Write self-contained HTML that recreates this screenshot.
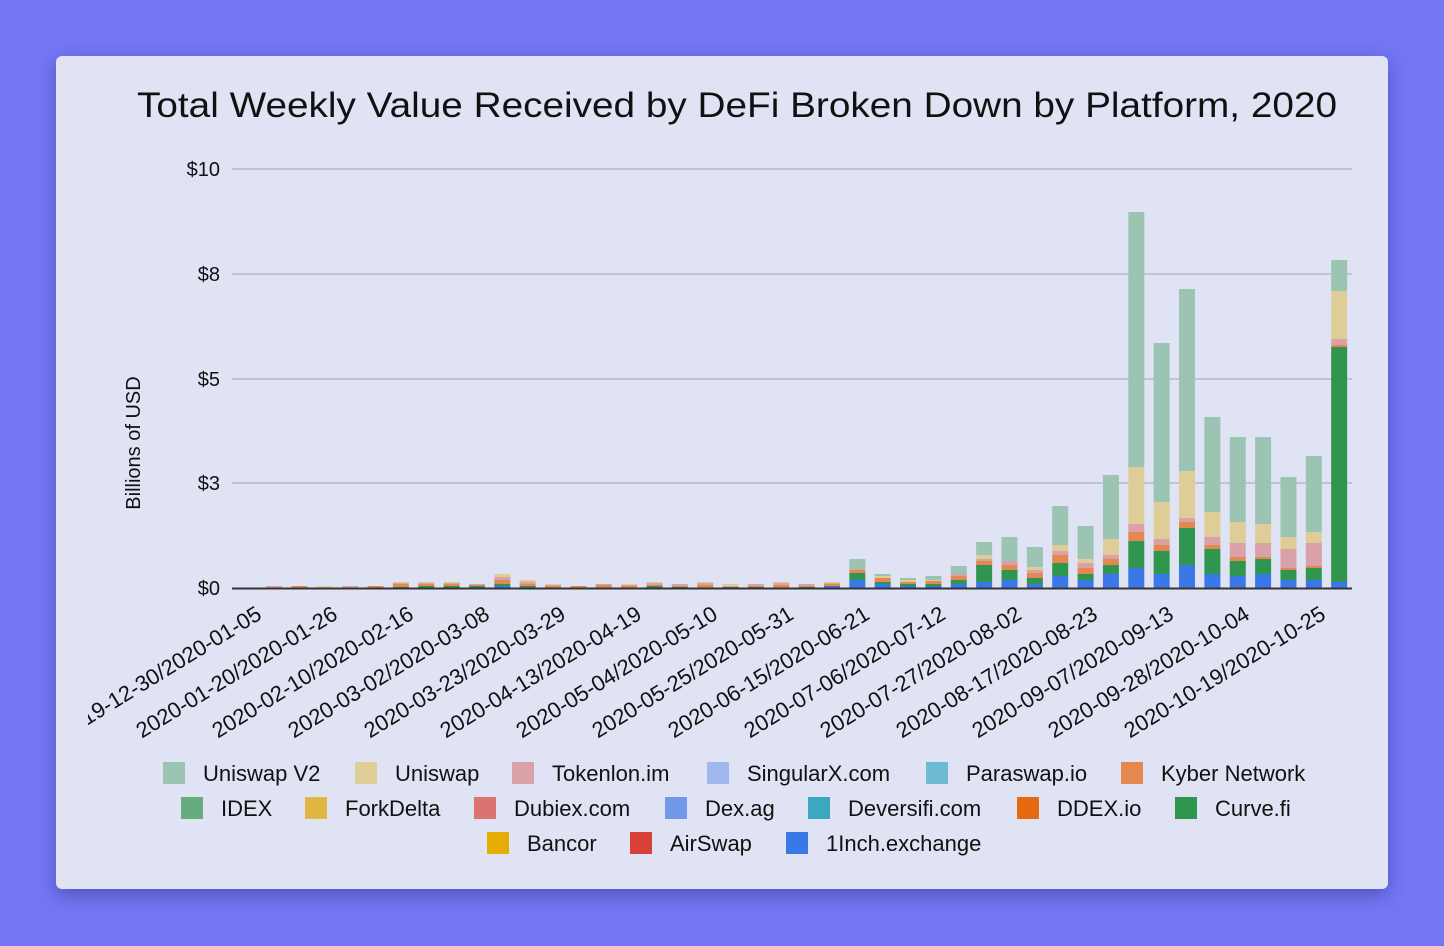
<!DOCTYPE html>
<html><head><meta charset="utf-8"><style>
html,body{margin:0;padding:0;width:1444px;height:946px;overflow:hidden;background:#7377f4;}
.card{position:absolute;left:56px;top:56px;width:1332px;height:833px;background:#e0e3f4;border-radius:6px;box-shadow:0 6px 18px rgba(40,40,120,0.45);}
svg{position:absolute;left:0;top:0;}
text{font-family:"Liberation Sans",Arial,sans-serif;fill:#111;}
</style></head><body>
<div class="card"></div>
<svg width="1444" height="946" viewBox="0 0 1444 946">
<defs><clipPath id="cl"><rect x="88" y="590" width="1300" height="170"/></clipPath></defs>
<text x="137" y="117" font-size="35" textLength="1200" lengthAdjust="spacingAndGlyphs">Total Weekly Value Received by DeFi Broken Down by Platform, 2020</text>
<g stroke="#b6b8cc" stroke-width="1.5">
<line x1="232" y1="169" x2="1352" y2="169"/><line x1="232" y1="274" x2="1352" y2="274"/>
<line x1="232" y1="379" x2="1352" y2="379"/><line x1="232" y1="483" x2="1352" y2="483"/>
</g>
<g font-size="20" text-anchor="end">
<text x="220" y="176">$10</text><text x="220" y="281">$8</text><text x="220" y="386">$5</text>
<text x="220" y="490">$3</text><text x="220" y="595">$0</text>
</g>
<text transform="translate(140,443) rotate(-90)" font-size="20" text-anchor="middle">Billions of USD</text>
<g id="bars"></g>
<line x1="232" y1="588.5" x2="1352" y2="588.5" stroke="#333" stroke-width="2"/>
<g font-size="22" text-anchor="end" clip-path="url(#cl)">
<text transform="translate(263,618) rotate(-31.5)">2019-12-30/2020-01-05</text>
<text transform="translate(339,618) rotate(-31.5)">2020-01-20/2020-01-26</text>
<text transform="translate(415,618) rotate(-31.5)">2020-02-10/2020-02-16</text>
<text transform="translate(491,618) rotate(-31.5)">2020-03-02/2020-03-08</text>
<text transform="translate(567,618) rotate(-31.5)">2020-03-23/2020-03-29</text>
<text transform="translate(643,618) rotate(-31.5)">2020-04-13/2020-04-19</text>
<text transform="translate(719,618) rotate(-31.5)">2020-05-04/2020-05-10</text>
<text transform="translate(795,618) rotate(-31.5)">2020-05-25/2020-05-31</text>
<text transform="translate(871,618) rotate(-31.5)">2020-06-15/2020-06-21</text>
<text transform="translate(947,618) rotate(-31.5)">2020-07-06/2020-07-12</text>
<text transform="translate(1023,618) rotate(-31.5)">2020-07-27/2020-08-02</text>
<text transform="translate(1099,618) rotate(-31.5)">2020-08-17/2020-08-23</text>
<text transform="translate(1175,618) rotate(-31.5)">2020-09-07/2020-09-13</text>
<text transform="translate(1251,618) rotate(-31.5)">2020-09-28/2020-10-04</text>
<text transform="translate(1327,618) rotate(-31.5)">2020-10-19/2020-10-25</text>
</g>
<g font-size="22">
<rect x="163" y="762" width="22" height="22" fill="#9bc4b3"/><text x="203" y="781">Uniswap V2</text>
<rect x="355" y="762" width="22" height="22" fill="#dfcd98"/><text x="395" y="781">Uniswap</text>
<rect x="512" y="762" width="22" height="22" fill="#dba1a8"/><text x="552" y="781">Tokenlon.im</text>
<rect x="707" y="762" width="22" height="22" fill="#a1b8ef"/><text x="747" y="781">SingularX.com</text>
<rect x="926" y="762" width="22" height="22" fill="#6ebad0"/><text x="966" y="781">Paraswap.io</text>
<rect x="1121" y="762" width="22" height="22" fill="#e3884e"/><text x="1161" y="781">Kyber Network</text>
<rect x="181" y="797" width="22" height="22" fill="#66ad7d"/><text x="221" y="816">IDEX</text>
<rect x="305" y="797" width="22" height="22" fill="#e2b643"/><text x="345" y="816">ForkDelta</text>
<rect x="474" y="797" width="22" height="22" fill="#d97470"/><text x="514" y="816">Dubiex.com</text>
<rect x="665" y="797" width="22" height="22" fill="#6f98e8"/><text x="705" y="816">Dex.ag</text>
<rect x="808" y="797" width="22" height="22" fill="#3aa9c0"/><text x="848" y="816">Deversifi.com</text>
<rect x="1017" y="797" width="22" height="22" fill="#e6690f"/><text x="1057" y="816">DDEX.io</text>
<rect x="1175" y="797" width="22" height="22" fill="#30954f"/><text x="1215" y="816">Curve.fi</text>
<rect x="487" y="832" width="22" height="22" fill="#e5ac05"/><text x="527" y="851">Bancor</text>
<rect x="630" y="832" width="22" height="22" fill="#d84137"/><text x="670" y="851">AirSwap</text>
<rect x="786" y="832" width="22" height="22" fill="#3b78e7"/><text x="826" y="851">1Inch.exchange</text>
</g>
</svg>
<script>
var cols=["#3b78e7","#30954f","#e3884e","#dba1a8","#dfcd98","#9bc4b3"];
var d=[[0,0,0,0,0,0],[0,0,0,2,0,0],[0,0,2,0,0,0],[0,0,0,0,2,0],[0,0,0,2,0,0],[0,0,2,0,0,0],
[0,1,3,1,1,0],[0,2,2,1,1,0],[0,2,2,1,1,0],[0,2,1,1,0,0],[2,2,4,3,3,0],[0,2,2,2,2,0],
[0,0,2,1,1,0],[0,0,2,0,0,0],[0,0,3,1,0,0],[0,0,2,1,1,0],[0,2,1,2,1,0],[0,1,1,2,0,0],
[0,0,3,2,1,0],[0,1,0,1,2,0],[0,1,1,2,0,0],[0,0,3,2,1,0],[0,1,1,2,0,0],[2,0,2,1,1,0],
[8,7,3,1,0,10],[4,2,4,0,2,2],[2,2,2,0,2,2],[2,2,3,0,1,4],[4,4,4,2,0,8],[6,17,4,2,4,13],
[8,10,5,4,0,24],[4,6,5,3,3,20],[12,13,8,4,6,39],[8,6,6,5,4,33],[14,9,6,4,16,64],
[20,27,9,8,57,255],[14,23,6,6,37,159],[23,37,6,4,47,182],[14,25,4,8,25,95],[12,15,4,14,21,85],
[14,15,2,14,19,87],[8,10,2,19,12,60],[8,12,2,23,11,76],[6,235,2,6,48,31]];
var g=document.getElementById("bars"),ns="http://www.w3.org/2000/svg";
d.forEach(function(b,i){var cx=248.7+25.36*i,y=588;b.forEach(function(h,k){if(!h)return;
var r=document.createElementNS(ns,"rect");y-=h;r.setAttribute("x",cx-8);r.setAttribute("y",y);
r.setAttribute("width",16);r.setAttribute("height",h);r.setAttribute("fill",cols[k]);g.appendChild(r);});});
</script>
</body></html>
